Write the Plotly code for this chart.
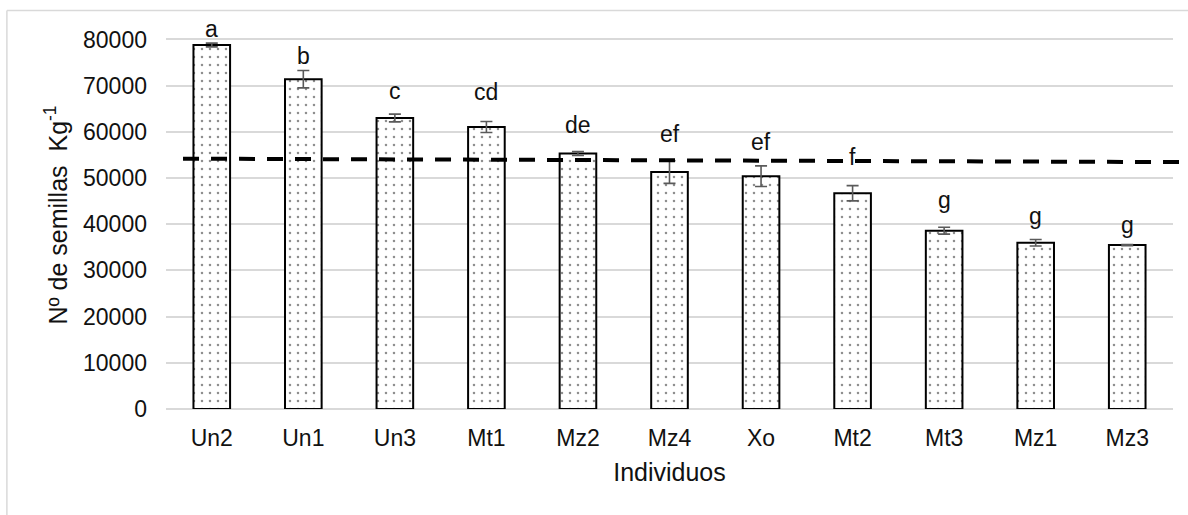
import plotly.graph_objects as go

# Seed count per kilogram for each individual tree
individuos = ["Un2", "Un1", "Un3", "Mt1", "Mz2", "Mz4", "Xo", "Mt2", "Mt3", "Mz1", "Mz3"]
semillas_kg = [78800, 71400, 63000, 61050, 55300, 51300, 50400, 46700, 38600, 36000, 35500]
error_std = [400, 1870, 830, 1190, 430, 2450, 2230, 1650, 750, 700, 120]

# Tukey grouping letters and their heights
letras = ["a", "b", "c", "cd", "de", "ef", "ef", "f", "g", "g", "g"]
letras_y = [82300, 76400, 68900, 68700, 61400, 59500, 57700, 54500, 45200, 41700, 39800]

# Reference (mean) line, left and right end values
linea_media = [54200, 53450]

y_ticks = [0, 10000, 20000, 30000, 40000, 50000, 60000, 70000, 80000]
y_max = 84000  # headroom so the top letters stay inside the axis range

FONT = "Liberation Sans, Arial, sans-serif"
GRID = "#d9d9d9"

fig = go.Figure()

fig.add_trace(go.Bar(
    x=individuos,
    y=semillas_kg,
    width=0.4,
    marker=dict(
        color="white",
        line=dict(color="black", width=2),
        pattern=dict(shape=".", fgcolor="#1e1e1e", bgcolor="white",
                     size=8, solidity=0.08),
    ),
    error_y=dict(type="data", array=error_std, visible=True,
                 color="#5a5a5a", thickness=1.6, width=6),
    showlegend=False,
    hoverinfo="x+y",
))

for cat, txt, yy in zip(individuos, letras, letras_y):
    fig.add_annotation(x=cat, y=yy, text=txt, showarrow=False,
                       xanchor="center", yanchor="middle",
                       font=dict(family=FONT, size=23, color="#111111"))

# Plot-area geometry used to place paper-referenced shapes
plot_top_px = 20.5
plot_bottom_px = 409.3

# Dashed reference line spanning the plot width
fig.add_shape(type="line", xref="paper", yref="y",
              x0=0.0169, x1=1.007, y0=linea_media[0], y1=linea_media[1],
              line=dict(color="black", width=4, dash="16px,12px"))

# Outer chart frame (top and left edges)
px_per_paper = (plot_bottom_px - plot_top_px)
frame_top = (plot_bottom_px - 10) / px_per_paper
frame_bottom = (plot_bottom_px - 520) / px_per_paper
fig.add_shape(type="line", xref="paper", yref="paper",
              x0=-0.158, x1=1.02, y0=frame_top, y1=frame_top,
              line=dict(color=GRID, width=1.5))
fig.add_shape(type="line", xref="paper", yref="paper",
              x0=-0.158, x1=-0.158, y0=frame_top, y1=frame_bottom,
              line=dict(color=GRID, width=1.5))

fig.update_layout(
    width=1188, height=515,
    margin=dict(l=166, r=15, t=plot_top_px, b=515 - plot_bottom_px),
    paper_bgcolor="white", plot_bgcolor="white",
    font=dict(family=FONT, size=23, color="#111111"),
    xaxis=dict(
        type="category",
        range=[-0.5, 10.5],
        showgrid=False,
        showline=False,
        zeroline=False,
        ticks="",
        ticklabelstandoff=13,
        tickfont=dict(family=FONT, size=23, color="#111111"),
        title=dict(text="Individuos", standoff=13,
                   font=dict(family=FONT, size=25, color="#111111")),
    ),
    yaxis=dict(
        range=[0, y_max],
        tickvals=y_ticks,
        ticktext=[str(v) for v in y_ticks],
        showgrid=True, gridcolor=GRID, gridwidth=1.5,
        zeroline=True, zerolinecolor=GRID, zerolinewidth=1.5,
        showline=False,
        ticks="",
        ticklabelstandoff=18,
        tickfont=dict(family=FONT, size=23, color="#111111"),
        title=dict(text="Nº de semillas  Kg<sup>-1</sup>", standoff=8,
                   font=dict(family=FONT, size=25, color="#111111")),
    ),
)

fig.write_html("out.html")
